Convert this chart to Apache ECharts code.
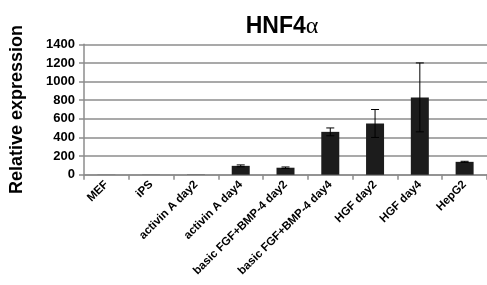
<!DOCTYPE html>
<html><head><meta charset="utf-8">
<script src="https://cdn.jsdelivr.net/npm/echarts@6/dist/echarts.min.js"></script>
<style>html,body{margin:0;padding:0;background:#fff}#c{width:487px;height:285px}</style>
</head><body><div id="c"></div>
<script>
const categories = ["MEF","iPS","activin A day2","activin A day4","basic FGF+BMP-4 day2","basic FGF+BMP-4 day4","HGF day2","HGF day4","HepG2"];
const values = [1, 1, 2, 95, 75, 460, 550, 830, 138];
const errors = [0, 0, 0, 10, 8, 42, 150, 370, 6];
const yTicks = [0, 200, 400, 600, 800, 1000, 1200, 1400];

const chart = echarts.init(document.getElementById('c'));
const font = 'Liberation Sans, Arial, sans-serif';
chart.setOption({
  animation: false,
  title: {text: 'HNF4{a|α}', left: 277, top: 10, textAlign: 'center',
    textStyle: {fontFamily: font, fontWeight: 'bold', fontSize: 23, color: '#000',
      rich: {a: {fontFamily: 'Liberation Serif, serif', fontWeight: 'normal', fontSize: 24, color: '#000'}}}},
  grid: {left: 78, top: 44.3, height: 130.4, width: 418, containLabel: false},
  xAxis: {type: 'category', data: categories,
    axisLine: {lineStyle: {color: '#8c8c8c', width: 1.5}},
    axisTick: {show: true, interval: 0, length: 5, lineStyle: {color: '#8c8c8c', width: 1.5}},
    axisLabel: {interval: 0, rotate: 45, fontFamily: font, fontWeight: 'bold', fontSize: 11.5, color: '#000', margin: 8}},
  yAxis: {type: 'value', min: yTicks[0], max: yTicks[yTicks.length-1], interval: 200,
    name: 'Relative expression', nameLocation: 'middle', nameGap: 58, nameRotate: 90,
    nameTextStyle: {fontFamily: font, fontWeight: 'bold', fontSize: 18, color: '#000'},
    axisLine: {show: true, lineStyle: {color: '#8c8c8c', width: 1.5}},
    axisTick: {show: true, length: 5, lineStyle: {color: '#8c8c8c', width: 1.5}},
    splitLine: {lineStyle: {color: '#8c8c8c', width: 1.5}},
    axisLabel: {formatter: v => String(v), fontFamily: font, fontWeight: 'bold', fontSize: 13, color: '#000', margin: 9}},
  series: [
    {type: 'bar', data: values, barWidth: 18, itemStyle: {color: '#1c1c1c'}},
    {type: 'custom', data: values.map((v, i) => [i, v - errors[i], v + errors[i]]),
     renderItem: function (params, api) {
       if (errors[params.dataIndex] === 0) return null;
       const x = api.value(0);
       const lo = api.coord([x, api.value(1)]);
       const hi = api.coord([x, api.value(2)]);
       const cap = 4;
       const st = {stroke: '#000', lineWidth: 1};
       return {type: 'group', children: [
         {type: 'line', shape: {x1: hi[0], y1: hi[1], x2: lo[0], y2: lo[1]}, style: st},
         {type: 'line', shape: {x1: hi[0]-cap, y1: hi[1], x2: hi[0]+cap, y2: hi[1]}, style: st},
         {type: 'line', shape: {x1: lo[0]-cap, y1: lo[1], x2: lo[0]+cap, y2: lo[1]}, style: st}
       ]};
     }, z: 10}
  ]
});
</script></body></html>
